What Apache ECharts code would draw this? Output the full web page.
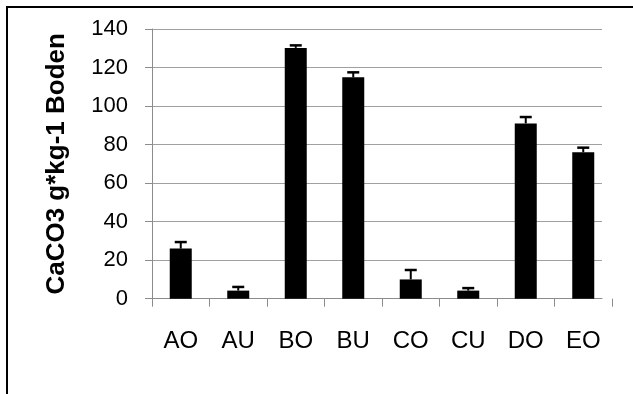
<!DOCTYPE html>
<html>
<head>
<meta charset="utf-8">
<script src="https://cdn.jsdelivr.net/npm/echarts@6/dist/echarts.min.js"></script>
<style>
html,body{margin:0;padding:0;background:#fff;overflow:hidden;}
#frame{position:absolute;left:6px;top:6px;width:700px;height:500px;border-left:2px solid #000;border-top:2px solid #000;}
#chart{position:absolute;left:0;top:0;width:633px;height:394px;}
</style>
</head>
<body>
<div id="frame"></div>
<div id="chart"></div>
<script>
const categories = ['AO','AU','BO','BU','CO','CU','DO','EO'];
const values = [26, 4.2, 130.2, 114.9, 10.0, 4.2, 91.0, 76.0];
const errors = [3.4, 1.9, 1.3, 2.6, 4.9, 1.3, 3.3, 2.4];
const yTicks = [0, 20, 40, 60, 80, 100, 120, 140];
const yTitle = 'CaCO3 g*kg-1 Boden';

const FONT = 'Liberation Sans, Arial, sans-serif';
const chart = echarts.init(document.getElementById('chart'), null, {renderer:'canvas'});

const errData = values.map((v, i) => [i, v, errors[i]]);

chart.setOption({
  animation: false,
  backgroundColor: 'transparent',
  grid: [
    {left: 152, right: 21, top: 29, bottom: 95.3, containLabel: false},
    {left: 152, right: 31, top: 29, bottom: 95.3, containLabel: false}
  ],
  xAxis: [
    {
      type: 'category', gridIndex: 0, data: categories, boundaryGap: true,
      axisLine: {show: false},
      axisTick: {show: true, length: 8, lineStyle: {color: '#8c8c8c', width: 1}},
      axisLabel: {color: '#000', fontFamily: FONT, fontSize: 24, margin: 31}
    },
    {
      type: 'category', gridIndex: 1, data: categories,
      axisLine: {show: true, lineStyle: {color: '#8c8c8c', width: 1}},
      axisTick: {show: false}, axisLabel: {show: false}
    }
  ],
  yAxis: [
    {
      type: 'value', gridIndex: 0, min: 0, max: 140, interval: 20,
      axisLine: {show: true, lineStyle: {color: '#8c8c8c', width: 1}},
      axisTick: {show: true, length: 7, lineStyle: {color: '#8c8c8c', width: 1}},
      splitLine: {show: false},
      axisLabel: {color: '#000', fontFamily: FONT, fontSize: 22, margin: 24,
        formatter: v => yTicks.includes(v) ? String(v) : ''},
      name: yTitle, nameLocation: 'middle', nameRotate: 90, nameGap: 82,
      nameTextStyle: {color: '#000', fontFamily: FONT, fontSize: 26, fontWeight: 'bold'}
    },
    {
      type: 'value', gridIndex: 1, min: 0, max: 140, interval: 20,
      axisLine: {show: false}, axisTick: {show: false}, axisLabel: {show: false},
      splitLine: {show: true, lineStyle: {color: '#a0a0a0', width: 1}}
    }
  ],
  series: [
    {
      type: 'bar', xAxisIndex: 0, yAxisIndex: 0, data: values,
      barWidth: 22, itemStyle: {color: '#000'}, z: 2
    },
    {
      type: 'custom', xAxisIndex: 0, yAxisIndex: 0, data: errData, z: 3,
      renderItem: function (params, api) {
        const i = api.value(0), v = api.value(1), e = api.value(2);
        const base = api.coord([i, v]);
        const top = api.coord([i, v + e]);
        const hw = 6;
        return {
          type: 'group',
          children: [
            {type: 'line', shape: {x1: base[0], y1: base[1], x2: top[0], y2: top[1]},
             style: {stroke: '#000', lineWidth: 2}},
            {type: 'line', shape: {x1: top[0] - hw, y1: top[1], x2: top[0] + hw, y2: top[1]},
             style: {stroke: '#000', lineWidth: 2.5}}
          ]
        };
      }
    }
  ]
});
</script>
</body>
</html>
